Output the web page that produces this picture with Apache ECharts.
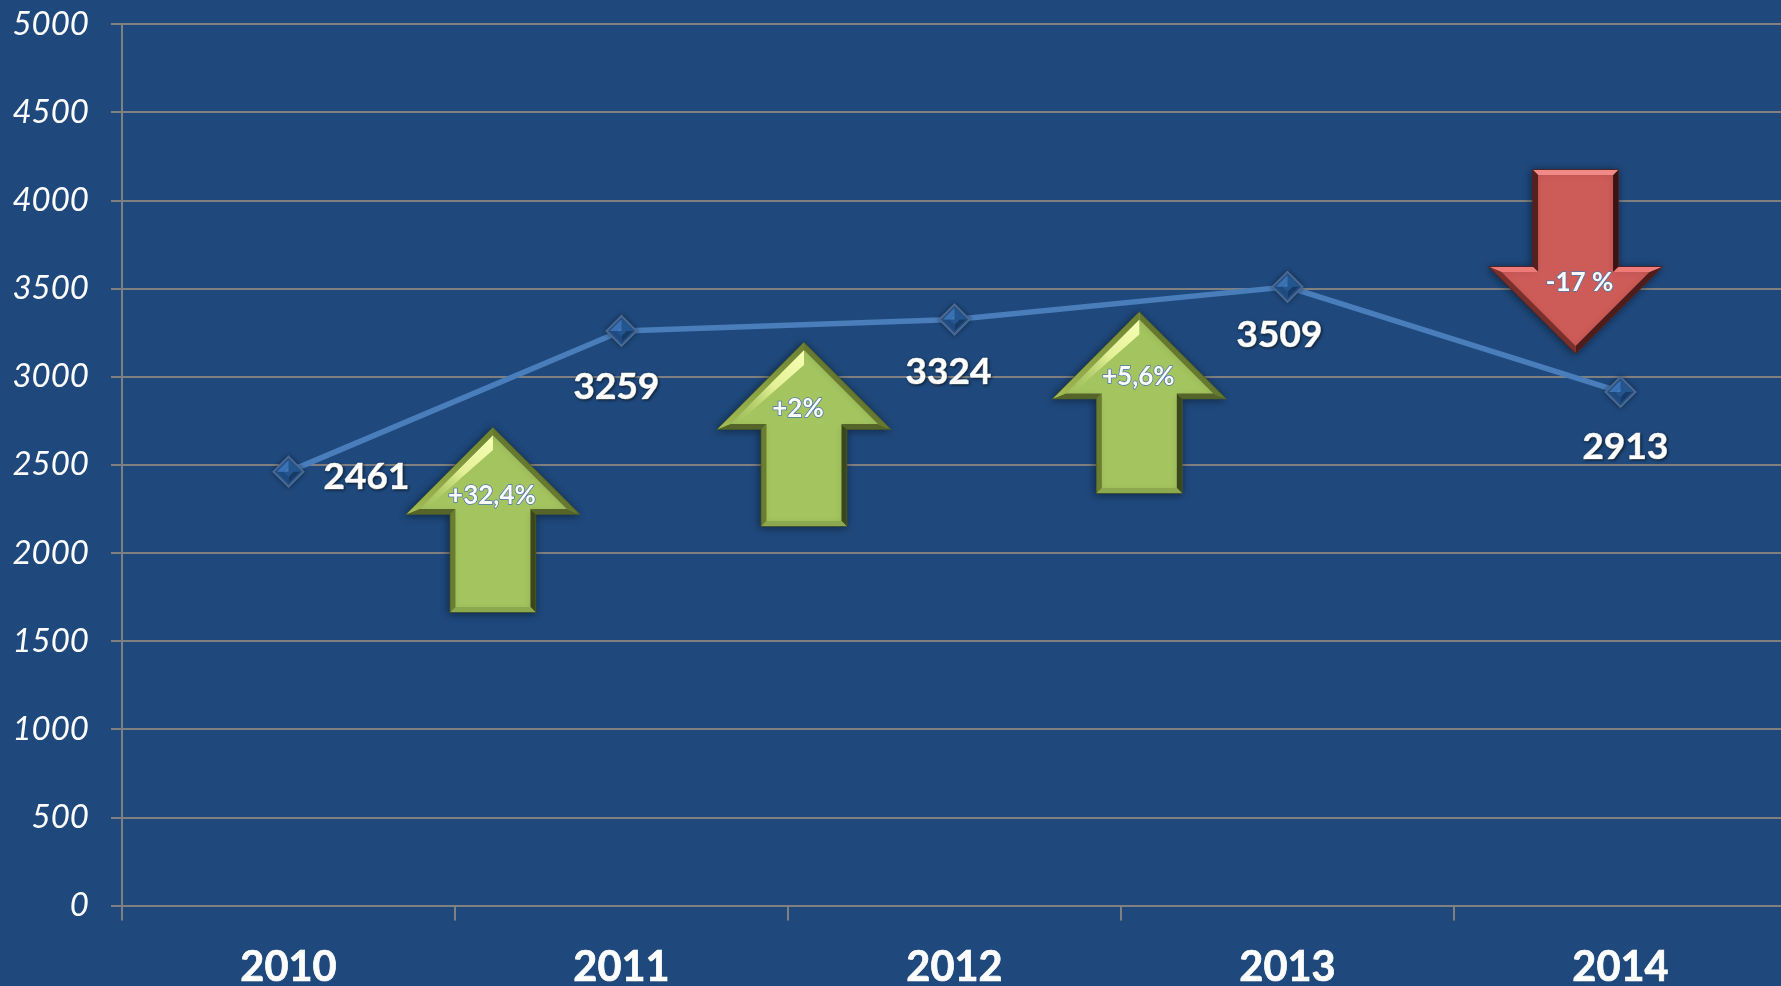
<!DOCTYPE html>
<html>
<head>
<meta charset="utf-8">
<style>html,body{margin:0;padding:0;background:#1F497D;overflow:hidden}#c{width:1781px;height:986px}</style>
<script src="https://cdn.jsdelivr.net/npm/echarts@6/dist/echarts.min.js"></script>
</head>
<body>
<div id="c"></div>
<script>
const years = ['2010', '2011', '2012', '2013', '2014'];
const values = [2461, 3259, 3324, 3509, 2913];
const yTicks = [0, 500, 1000, 1500, 2000, 2500, 3000, 3500, 4000, 4500, 5000];

// change arrows: horizontal place in category widths, tip value, tail value, text
const arrowPlace = [1.114, 2.048, 3.055, 4.365];
const arrowTip = [2708, 3191, 3364, 3134];
const arrowTail = [1665, 2153, 2340, 4172];
const arrowText = ['+32,4%', '+2%', '+5,6%', '-17 %'];

// styling constants (not data)
const labelOffsets = [[78, 5], [-5, 56], [-6, 53], [-8, 48], [5, 55]];
const arrowTextOffsets = [[-1, 68], [-6, 66], [-1, 64], [4, 70]];
const HEAD_HALF = 86, SHAFT_HALF = 42.5, HEAD_H = 86, BEVEL = 5;
const GRID_GRAY = '#808080';
const greenPalette = {
  base: '#A3C45F', edge: '#4f5f26', shadow: 'rgba(0,0,0,0.45)',
  facets: ['#66792F', '#55652A', '#3B461A', '#8DA94F', '#6A7D31', '#55652A', '#8FAA48'],
  glow: '#F6FFB4'
};
const redPalette = {
  base: '#CD5B58', edge: '#5a1f1d', shadow: 'rgba(0,0,0,0.45)',
  facets: ['#4E1D1B', '#EE7B78', '#3B1311', '#F08A86', '#54201E', '#EE7B78', '#7A302C'],
  glow: null
};

function renderArrow(params, api) {
  const i = params.dataIndex;
  const tipC = api.coord([api.value(0), api.value(1)]);
  const tailC = api.coord([api.value(0), api.value(2)]);
  const cx = tipC[0], T = tipC[1], E = tailC[1];
  const up = E > T, s = up ? 1 : -1;
  const pal = up ? greenPalette : redPalette;
  const B = T + s * HEAD_H;
  const outer = [[cx, T], [cx + HEAD_HALF, B], [cx + SHAFT_HALF, B], [cx + SHAFT_HALF, E],
    [cx - SHAFT_HALF, E], [cx - SHAFT_HALF, B], [cx - HEAD_HALF, B]];
  const d = BEVEL, k = 2.41;
  const inner = [[cx, T + s * d * 1.41], [cx + HEAD_HALF - d * k, B - s * d], [cx + SHAFT_HALF - d, B - s * d],
    [cx + SHAFT_HALF - d, E - s * d], [cx - SHAFT_HALF + d, E - s * d], [cx - SHAFT_HALF + d, B - s * d],
    [cx - HEAD_HALF + d * k, B - s * d]];
  const children = [{
    type: 'polygon', shape: { points: outer },
    style: { fill: pal.base, stroke: pal.edge, lineWidth: 1.5, shadowBlur: 9, shadowColor: pal.shadow, shadowOffsetX: -1, shadowOffsetY: 1 }
  }];
  for (let n = 0; n < 7; n++) {
    const m = (n + 1) % 7;
    children.push({
      type: 'polygon', shape: { points: [outer[n], outer[m], inner[m], inner[n]] },
      style: { fill: pal.facets[n] }
    });
  }
  if (pal.glow) {
    children.push({
      type: 'polygon',
      shape: { points: [[cx, T + 7], [cx, T + 22], [cx - HEAD_HALF + 20, B - 6], [cx - HEAD_HALF + 12, B - 5]] },
      style: {
        fill: new echarts.graphic.LinearGradient(1, 0, 0, 1, [
          { offset: 0, color: pal.glow }, { offset: 0.45, color: '#E4F096' }, { offset: 1, color: 'rgba(163,196,95,0.1)' }
        ])
      }
    });
    children.push({
      type: 'polygon',
      shape: { points: [outer[0], outer[6], inner[6], inner[0]] },
      style: {
        fill: new echarts.graphic.LinearGradient(1, 0, 0, 1, [
          { offset: 0, color: '#6B7F30' }, { offset: 1, color: '#A5BE55' }
        ])
      }
    });
  }
  const off = arrowTextOffsets[i];
  children.push({
    type: 'text',
    style: {
      x: cx + off[0], y: T + off[1] * (up ? 1 : -1),
      text: arrowText[i], align: 'center', verticalAlign: 'middle',
      fill: '#FFFFFF', font: '700 26px Lato',
      stroke: '#4F78B2', lineWidth: 1.5,
      shadowBlur: 2, shadowColor: 'rgba(0,0,30,0.6)', shadowOffsetX: 1, shadowOffsetY: 1
    },
    z2: 10
  });
  return { type: 'group', children };
}

function renderDiamond(params, api) {
  const c = api.coord([api.value(0), api.value(1)]);
  const x = c[0], y = c[1], R = 11.5, r = 5;
  const tp = [x, y - R], rt = [x + R, y], bt = [x, y + R], lf = [x - R, y];
  const itp = [x, y - r], irt = [x + r, y], ibt = [x, y + r], ilf = [x - r, y];
  return {
    type: 'group',
    children: [
      { type: 'polygon', shape: { points: [tp, rt, irt, itp] }, style: { fill: '#23568F' } },
      { type: 'polygon', shape: { points: [rt, bt, ibt, irt] }, style: { fill: '#173A66' } },
      { type: 'polygon', shape: { points: [bt, lf, ilf, ibt] }, style: { fill: '#1E4A80' } },
      { type: 'polygon', shape: { points: [lf, tp, itp, ilf] }, style: { fill: '#3A72B4' } },
      { type: 'polygon', shape: { points: [itp, irt, ibt, ilf] }, style: { fill: '#24558F' } },
      { type: 'polygon', shape: { points: [ilf, itp, [x, y]] }, style: { fill: '#3F79BC' } }
    ]
  };
}

const chart = echarts.init(document.getElementById('c'), null, { renderer: 'canvas' });
chart.setOption({
  animation: false,
  backgroundColor: '#1F497D',
  grid: { left: 122, top: 24, width: 1665, height: 881.5, containLabel: false, outerBoundsMode: 'none' },
  xAxis: [{
    type: 'category',
    data: years,
    boundaryGap: true,
    axisLine: { show: true, lineStyle: { color: GRID_GRAY, width: 2 } },
    axisTick: { show: true, length: 15, lineStyle: { color: GRID_GRAY, width: 2 } },
    axisLabel: {
      color: '#FFFFFF', fontFamily: 'Lato', fontWeight: 'bold', fontSize: 41.5, margin: 42, lineHeight: 41,
      textBorderColor: '#FFFFFF', textBorderWidth: 0.7
    }
  }, {
    type: 'value', min: 0, max: 5, show: false, position: 'top',
    axisLine: { show: false }, axisTick: { show: false }, axisLabel: { show: false }, splitLine: { show: false }
  }],
  yAxis: {
    type: 'value',
    min: yTicks[0],
    max: yTicks[yTicks.length - 1],
    interval: yTicks[1] - yTicks[0],
    axisLine: { show: true, lineStyle: { color: GRID_GRAY, width: 2 } },
    axisTick: { show: true, length: 11, lineStyle: { color: GRID_GRAY, width: 2 } },
    splitLine: { show: true, lineStyle: { color: GRID_GRAY, width: 2 } },
    axisLabel: {
      color: '#FFFFFF', fontFamily: 'Lato', fontStyle: 'italic', fontSize: 33, margin: 33, align: 'right',
      formatter: (v) => String(v)
    }
  },
  series: [{
    type: 'line',
    xAxisIndex: 0,
    data: values.map((v, i) => ({
      value: v,
      label: { offset: labelOffsets[i] }
    })),
    lineStyle: { color: '#4A7EBB', width: 5.5 },
    symbol: 'diamond',
    symbolSize: 30,
    itemStyle: { color: '#2A5A96', borderColor: '#4A6A92', borderWidth: 2, shadowBlur: 5, shadowColor: 'rgba(0,0,0,0.4)' },
    label: {
      show: true, position: 'inside', color: '#FFFFFF',
      fontFamily: 'Lato', fontWeight: 'bold', fontSize: 37,
      textBorderColor: '#FFFFFF', textBorderWidth: 0.7,
      textShadowBlur: 3, textShadowColor: 'rgba(0,0,0,0.6)', textShadowOffsetX: 1, textShadowOffsetY: 1
    },
    z: 3
  }, {
    type: 'custom',
    xAxisIndex: 0,
    renderItem: renderDiamond,
    data: values.map((v, i) => [i, v]),
    encode: { x: 0, y: 1 },
    silent: true,
    z: 4
  }, {
    type: 'custom',
    xAxisIndex: 1,
    renderItem: renderArrow,
    data: arrowPlace.map((p, i) => [p, arrowTip[i], arrowTail[i]]),
    encode: { x: 0, y: [1, 2] },
    clip: false,
    silent: true,
    z: 5
  }]
});
</script>
</body>
</html>
